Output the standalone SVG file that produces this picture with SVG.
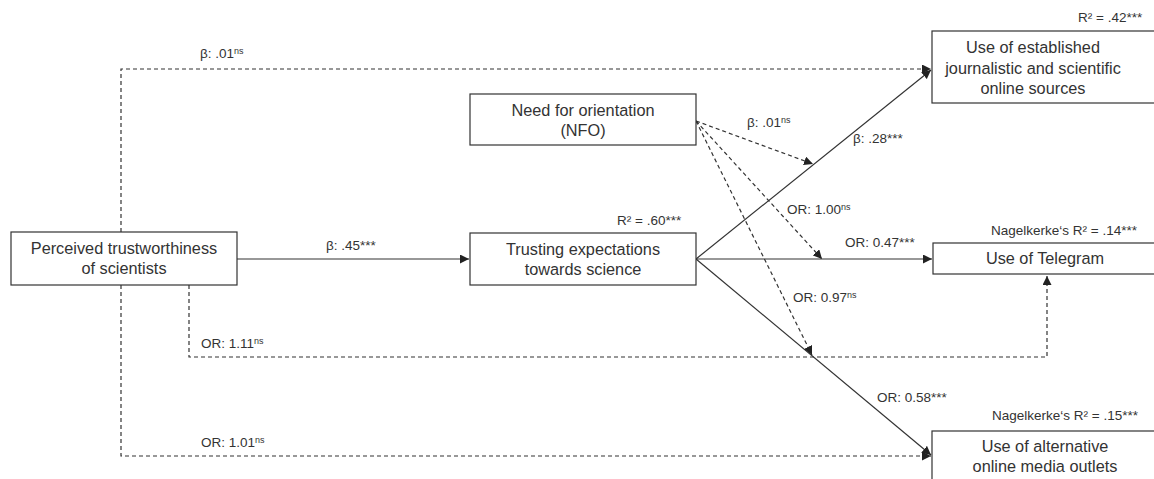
<svg xmlns="http://www.w3.org/2000/svg" width="1154" height="479" viewBox="0 0 1154 479">
<style>
.box{fill:#fff;stroke:#333;stroke-width:1.2}
.bt{font-family:"Liberation Sans",Arial,sans-serif;font-size:16.3px;fill:#333;text-anchor:middle}
.lb{font-family:"Liberation Sans",Arial,sans-serif;font-size:13.5px;fill:#333}
.sup{font-size:9px}
.solid{fill:none;stroke:#333;stroke-width:1.2}
.dash{fill:none;stroke:#333;stroke-width:1.2;stroke-dasharray:4 3}
</style>
<defs>
<marker id="ah" viewBox="0 0 10 10" refX="10" refY="5" markerWidth="9" markerHeight="9" markerUnits="userSpaceOnUse" orient="auto">
<path d="M0,0 L10,5 L0,10 Z" fill="#222"/>
</marker>
</defs>
<g id="connectors">
<path class="dash" d="M121,232 V69 H931" marker-end="url(#ah)"/>
<path class="solid" d="M237,259 H469" marker-end="url(#ah)"/>
<path class="dash" d="M189,285 V357 H1047 V276" marker-end="url(#ah)"/>
<path class="dash" d="M121,285 V456 H931" marker-end="url(#ah)"/>
<path class="solid" d="M696,259 L931,70" marker-end="url(#ah)"/>
<path class="solid" d="M696,259 H932" marker-end="url(#ah)"/>
<path class="solid" d="M696,259 L931,455" marker-end="url(#ah)"/>
<path class="dash" d="M696,121 L813,164" marker-end="url(#ah)"/>
<path class="dash" d="M696,121 L822,259" marker-end="url(#ah)"/>
<path class="dash" d="M696,121 L812,355" marker-end="url(#ah)"/>
</g>
<g id="labels">
<text class="lb" x="200" y="58">β: .01<tspan class="sup" dy="-4">ns</tspan></text>
<text class="lb" x="326" y="250">β: .45***</text>
<text class="lb" x="617" y="225">R² = .60***</text>
<text class="lb" x="747" y="127">β: .01<tspan class="sup" dy="-4">ns</tspan></text>
<text class="lb" x="853" y="143">β: .28***</text>
<text class="lb" x="1078" y="22">R² = .42***</text>
<text class="lb" x="787" y="214">OR: 1.00<tspan class="sup" dy="-4">ns</tspan></text>
<text class="lb" x="845" y="247">OR: 0.47***</text>
<text class="lb" x="991" y="235">Nagelkerke‘s R² = .14***</text>
<text class="lb" x="793" y="302">OR: 0.97<tspan class="sup" dy="-4">ns</tspan></text>
<text class="lb" x="201" y="348">OR: 1.11<tspan class="sup" dy="-4">ns</tspan></text>
<text class="lb" x="877" y="402">OR: 0.58***</text>
<text class="lb" x="992" y="420">Nagelkerke‘s R² = .15***</text>
<text class="lb" x="201" y="447">OR: 1.01<tspan class="sup" dy="-4">ns</tspan></text>
</g>
<g id="node-perceived">
<rect class="box" x="11" y="232" width="226" height="53"/>
<text class="bt" x="124" y="254">Perceived trustworthiness</text>
<text class="bt" x="124" y="274">of scientists</text>
</g>
<g id="node-nfo">
<rect class="box" x="470" y="94" width="226" height="51"/>
<text class="bt" x="583" y="116">Need for orientation</text>
<text class="bt" x="583" y="136">(NFO)</text>
</g>
<g id="node-trusting">
<rect class="box" x="470" y="233" width="226" height="52"/>
<text class="bt" x="583" y="255">Trusting expectations</text>
<text class="bt" x="583" y="275">towards science</text>
</g>
<g id="node-established">
<rect class="box" x="932" y="31" width="240" height="72"/>
<text class="bt" x="1033" y="53">Use of established</text>
<text class="bt" x="1033" y="74">journalistic and scientific</text>
<text class="bt" x="1033" y="94">online sources</text>
</g>
<g id="node-telegram">
<rect class="box" x="933" y="243" width="240" height="31"/>
<text class="bt" x="1045" y="264">Use of Telegram</text>
</g>
<g id="node-alternative">
<rect class="box" x="932" y="431" width="240" height="60"/>
<text class="bt" x="1045" y="452">Use of alternative</text>
<text class="bt" x="1045" y="472">online media outlets</text>
</g>
</svg>
